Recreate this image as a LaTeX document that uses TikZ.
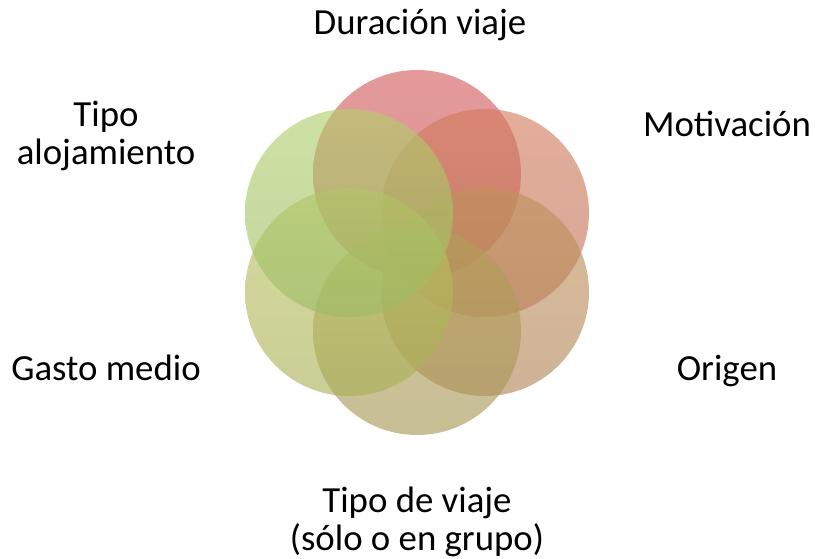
\documentclass[tikz,border=0pt]{standalone}
\usepackage{fontspec}
\setmainfont{Carlito}
\usepackage{tikz}

\definecolor{durtop}{RGB}{212,92,92}
\definecolor{durbot}{RGB}{196,80,80}
\definecolor{mottop}{RGB}{210,124,92}
\definecolor{motbot}{RGB}{190,112,90}
\definecolor{oritop}{RGB}{192,146,90}
\definecolor{oribot}{RGB}{176,132,86}
\definecolor{viatop}{RGB}{180,160,90}
\definecolor{viabot}{RGB}{166,150,84}
\definecolor{gastop}{RGB}{190,194,96}
\definecolor{gasbot}{RGB}{168,176,86}
\definecolor{alotop}{RGB}{176,206,106}
\definecolor{alobot}{RGB}{156,188,100}

\tikzset{
  petal/.style={fill opacity=0.62},
  label/.style={font=\fontsize{27.6}{28.5}\selectfont, align=center, inner sep=0pt}
}

\begin{document}
\begin{tikzpicture}[x=0.75pt,y=-0.75pt]
    \useasboundingbox (0,0) rectangle (815,559);
    % circles
    \shade[petal,top color=durtop,bottom color=durbot] (417,174) circle [radius=104];
    \shade[petal,top color=mottop,bottom color=motbot] (485,213) circle [radius=104];
    \shade[petal,top color=oritop,bottom color=oribot] (485,292) circle [radius=104];
    \shade[petal,top color=viatop,bottom color=viabot] (417,331) circle [radius=104];
    \shade[petal,top color=gastop,bottom color=gasbot] (349,292) circle [radius=104];
    \shade[petal,top color=alotop,bottom color=alobot] (349,213) circle [radius=104];
    % labels
    \node[label,anchor=base] (duracion) at (420,35) {Duración viaje};
    \node[label,anchor=base] (motivacion) at (727,137) {Motivación};
    \node[label,anchor=base] (origen) at (727,381) {Origen};
    \node[label,anchor=base] (gasto) at (106,381) {Gasto medio};
    \node[label] (alojamiento) at (106,136) {Tipo\\alojamiento};
    \node[label] (tipoviaje) at (417,522) {Tipo de viaje\\(sólo o en grupo)};
\end{tikzpicture}
\end{document}
